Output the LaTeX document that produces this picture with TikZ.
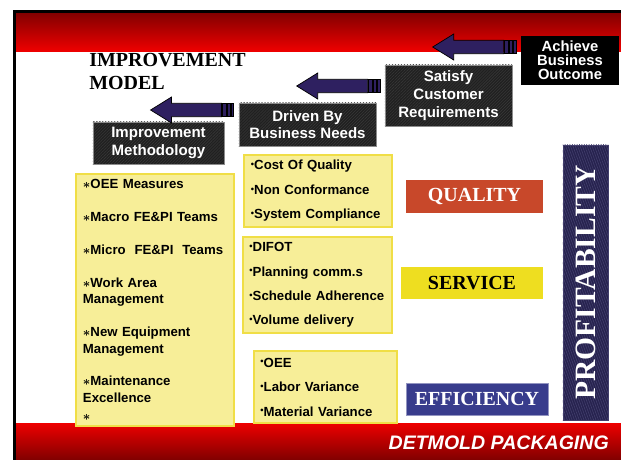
\documentclass[tikz,border=0pt]{standalone}
\usepackage{fontspec}
\setmainfont{Liberation Sans}
\newfontfamily\titlefont{Liberation Serif}
\usepackage{xcolor}
\definecolor{bandred}{RGB}{238,0,0}
\definecolor{banddark}{RGB}{128,0,0}
\definecolor{arrowpurple}{RGB}{46,32,96}
\definecolor{carbon}{RGB}{32,32,32}
\definecolor{carbonline}{RGB}{56,56,56}
\definecolor{listfill}{RGB}{247,238,152}
\definecolor{listedge}{RGB}{240,222,70}
\definecolor{qualred}{RGB}{200,72,42}
\definecolor{servyellow}{RGB}{238,222,32}
\definecolor{effblue}{RGB}{56,60,140}
\definecolor{profnavy}{RGB}{38,34,78}
\definecolor{profline}{RGB}{66,62,108}
\usepackage{graphicx}
\usepackage{tikz}
\usetikzlibrary{calc,patterns.meta}
\newcommand{\bul}{\raisebox{0.3ex}{\scalebox{0.7}{\textbullet}}}
\newcommand{\stp}{{\boldmath$\ast$}}
\newcommand{\pushArrow}[1]{%
  \begin{scope}[shift={(#1)}]
    \draw[fill=arrowpurple, line width=0.5pt] (-13,-6.7) -- (-63,-6.7) -- (-63,-13) -- (-84,0)
      -- (-63,13) -- (-63,6.7) -- (-13,6.7) -- cycle;
    \foreach \a/\b in {-12/-8.5,-7.2/-4.7,-3.4/-0.9}
      \draw[fill=arrowpurple, line width=0.3pt] (\a,-6.7) rectangle (\b,6.7);
  \end{scope}}

\begin{document}
\begin{tikzpicture}[x=0.025cm, y=-0.025cm,
  darkbox/.style={draw=black!45, line width=0.6pt, preaction={fill=carbon},
    pattern={Lines[angle=45, distance=1.5pt, line width=0.4pt]}, pattern color=carbonline,
    text=white, align=center, inner sep=0pt, font=\fontsize{10.7}{12.6}\selectfont\bfseries},
  listbox/.style={draw=listedge, fill=listfill, line width=1pt, align=left, inner sep=0pt},
  tagbox/.style={inner sep=0pt, minimum height=0.8cm, font=\titlefont\bfseries\fontsize{14.2}{16}\selectfont}]

  \useasboundingbox (0,0) rectangle (621,460);
  \fill[white] (0,0) rectangle (621,460);

  % --- slide frame and red bands ---
  \shade[top color=banddark, bottom color=bandred] (16,12) rectangle (621,51);
  \shade[top color=bandred, bottom color=banddark] (16,423) rectangle (621,460);
  \fill[black] (13,10) rectangle (621,12.5);
  \fill[black] (13,10) rectangle (16,460);

  \node[anchor=north west, inner sep=0pt, align=left,
        font=\titlefont\bfseries\fontsize{14.2}{16.4}\selectfont] (title) at (89,53) {IMPROVEMENT\\MODEL};
  \node[anchor=base east, inner sep=0pt, text=white,
        font=\bfseries\itshape\fontsize{13.9}{16}\selectfont] (firm) at (609,449.5) {DETMOLD PACKAGING};

  % --- staircase of drivers ---
  \node[fill=black, text=white, align=center, inner sep=0pt, minimum width=2.45cm, minimum height=1.225cm,
        font=\fontsize{10.5}{9.8}\selectfont\bfseries] (ach) at (570,60.5) {Achieve\\Business\\Outcome};
  \node[darkbox, minimum width=3.175cm, minimum height=1.525cm] (cust) at (448.5,95.5) {Satisfy\\Customer\\Requirements};
  \node[darkbox, minimum width=3.425cm, minimum height=1.075cm] (need) at (307.5,124.5) {Driven By\\Business Needs};
  \node[darkbox, minimum width=3.275cm, minimum height=1.05cm] (meth) at (158.5,143) {Improvement\\Methodology};

  \coordinate (tailA) at ($(ach.west |- 0,47)+(-4,0)$);
  \coordinate (tailB) at ($(cust.west |- 0,86)+(-4,0)$);
  \coordinate (tailC) at ($(need.west |- 0,110)+(-4,0)$);
  \pushArrow{tailA}
  \pushArrow{tailB}
  \pushArrow{tailC}

  % --- lists ---
  \node[listbox, minimum width=3.95cm, minimum height=6.3cm, text width=3.6cm,
        font=\fontsize{9.4}{11.67}\selectfont\bfseries] (tools) at (155,300)
    {\stp OEE Measures\\[11.7pt]
     \stp Macro FE\&PI Teams\\[11.7pt]
     \stp Micro\ \ FE\&PI\ \ Teams\\[11.7pt]
     \stp Work Area\\Management\\[11.7pt]
     \stp New Equipment\\Management\\[11.7pt]
     \stp Maintenance\\Excellence\\[1.1pt]
     \stp};
  \node[listbox, minimum width=3.7cm, minimum height=1.8cm, text width=3.35cm,
        font=\fontsize{9.4}{17.4}\selectfont\bfseries] (qlist) at (318,191)
    {\bul Cost Of Quality\\\bul Non Conformance\\\bul System Compliance};
  \node[listbox, minimum width=3.725cm, minimum height=2.4cm, text width=3.4cm,
        font=\fontsize{9.4}{17.4}\selectfont\bfseries] (slist) at (317.5,285)
    {\bul DIFOT\\\bul Planning comm.s\\\bul Schedule Adherence\\\bul Volume delivery};
  \node[listbox, minimum width=3.575cm, minimum height=1.8cm, text width=3.25cm,
        font=\fontsize{9.4}{17.4}\selectfont\bfseries] (elist) at (325.5,387)
    {\bul OEE\\\bul Labor Variance\\\bul Material Variance};

  % --- result tags ---
  \node[tagbox, fill=qualred, text=white, minimum width=3.425cm, minimum height=0.825cm] (qual) at (474.5,196.5) {QUALITY};
  \node[tagbox, fill=servyellow, minimum width=3.55cm] (serv) at (472,283) {SERVICE};
  \node[tagbox, fill=effblue, draw=effblue!55!white, text=white, minimum width=3.55cm] (eff) at (477,399) {EFFICIENCY};

  \node[draw=profline, line width=0.6pt, preaction={fill=profnavy},
        pattern={Lines[angle=-70, distance=1.6pt, line width=0.45pt]}, pattern color=profline,
        minimum width=1.125cm, minimum height=6.875cm, inner sep=0pt] (prof) at (585.5,282.5) {};
  \node[rotate=90, text=white, font=\titlefont\bfseries\fontsize{21}{24}\selectfont] (proftxt) at (prof.center) {PROFITABILITY};
\end{tikzpicture}
\end{document}
